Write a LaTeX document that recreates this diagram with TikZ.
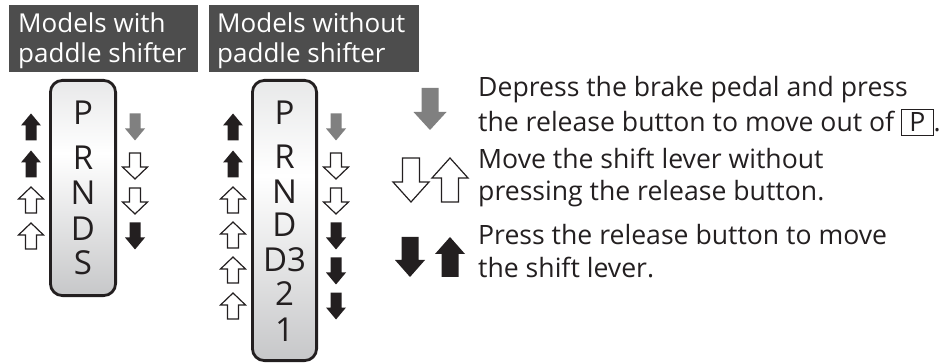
\documentclass[tikz,border=0pt]{standalone}
\usepackage{fontspec}
\setmainfont{Open Sans}
\definecolor{hdrgray}{HTML}{4D4D4D}
\definecolor{agray}{HTML}{808080}
\definecolor{ablack}{HTML}{231F20}
\definecolor{levtop}{HTML}{C6C7C9}
\definecolor{levbot}{HTML}{9C9DA0}
\pgfdeclareverticalshading{levershade}{100bp}{color(0bp)=(levbot); color(58bp)=(white); color(100bp)=(levtop)}
\newcommand{\varr}[8]{% #1 style, #2 cx, #3 cy, #4 dir (1 down, -1 up), #5 len, #6 head half w, #7 shaft half w, #8 head len
  \pgfmathsetmacro{\tipy}{#3+(#4)*(#5)/2}%
  \pgfmathsetmacro{\basey}{#3-(#4)*(#5)/2}%
  \pgfmathsetmacro{\hby}{\tipy-(#4)*(#8)}%
  \draw[#1] (#2,\tipy) -- ({#2+#6},\hby) -- ({#2+#7},\hby) -- ({#2+#7},\basey) -- ({#2-#7},\basey) -- ({#2-#7},\hby) -- ({#2-#6},\hby) -- cycle;}
\tikzset{
  fblack/.style={fill=ablack, draw=none},
  fgray/.style={fill=agray, draw=none},
  outl/.style={draw=ablack, fill=white, line width=1.2pt, line join=miter},
  hdrbox/.style={fill=hdrgray, draw=none},
  hdrtext/.style={anchor=base west, inner sep=0pt, text=white, font=\fontsize{26}{31}\selectfont},
  bodytext/.style={anchor=base west, inner sep=0pt, text=ablack, font=\fontsize{26.6}{31}\selectfont},
  letter/.style={anchor=center, inner sep=0pt, text=ablack, font=\fontsize{33}{36}\selectfont},
  leverframe/.style={draw=ablack, line width=2.8pt, rounded corners=12pt},
}
\setlength{\fboxsep}{3pt}
\setlength{\fboxrule}{0.8pt}
\begin{document}
\begin{tikzpicture}[x=1pt, y=-1pt]
\useasboundingbox (0,0) rectangle (950,363);
% headers
\fill[hdrbox] (9,5) rectangle (198,72);
\fill[hdrbox] (209,5) rectangle (419,72);
\node[hdrtext] (h1a) at (18,33) {Models with};
\node[hdrtext] (h1b) at (18,63) {paddle shifter};
\node[hdrtext] (h2a) at (217,33) {Models without};
\node[hdrtext] (h2b) at (217,63) {paddle shifter};
% lever 1
\shade[shading=levershade, rounded corners=12pt] (50.4,80.4) rectangle (115.6,295.6);
\draw[leverframe] (50.4,80.4) rectangle (115.6,295.6);
\node[letter] (l1p) at (83,113) {P};
\node[letter] (l1r) at (83,158) {R};
\node[letter] (l1n) at (83,193) {N};
\node[letter] (l1d) at (83,229) {D};
\node[letter] (l1s) at (83,263) {S};
% lever 2
\shade[shading=levershade, rounded corners=12pt] (252.4,80.4) rectangle (316.6,360.6);
\draw[leverframe] (252.4,80.4) rectangle (316.6,360.6);
\node[letter] (l2p) at (284.5,113) {P};
\node[letter] (l2r) at (284.5,157) {R};
\node[letter] (l2n) at (284.5,192) {N};
\node[letter] (l2d) at (284.5,225) {D};
\node[letter] (l2d3) at (284.5,260) {D3};
\node[letter] (l2two) at (284.5,294) {2};
\node[letter] (l2one) at (284.5,330) {1};
% lever 1 arrows left
\varr{fblack}{31}{127}{-1}{27}{10}{5.5}{12}
\varr{fblack}{31}{164}{-1}{27}{10}{5.5}{12}
\varr{outl}{31}{200}{-1}{26}{12.5}{5.5}{12}
\varr{outl}{31}{236}{-1}{26}{12.5}{5.5}{12}
% lever 1 arrows right
\varr{fgray}{135}{127}{1}{27}{10}{5.5}{12}
\varr{outl}{135}{166}{1}{26}{12.5}{5.5}{12}
\varr{outl}{135}{201}{1}{26}{12.5}{5.5}{12}
\varr{fblack}{135}{236}{1}{27}{10}{5.5}{12}
% lever 2 arrows left
\varr{fblack}{233}{127}{-1}{27}{10}{5.5}{12}
\varr{fblack}{233}{164}{-1}{27}{10}{5.5}{12}
\varr{outl}{233}{200}{-1}{26}{12.5}{5.5}{12}
\varr{outl}{233}{235}{-1}{26}{12.5}{5.5}{12}
\varr{outl}{233}{270}{-1}{26}{12.5}{5.5}{12}
\varr{outl}{233}{306}{-1}{26}{12.5}{5.5}{12}
% lever 2 arrows right
\varr{fgray}{336}{127}{1}{27}{10}{5.5}{12}
\varr{outl}{336}{166}{1}{26}{12.5}{5.5}{12}
\varr{outl}{336}{201}{1}{26}{12.5}{5.5}{12}
\varr{fblack}{336}{236}{1}{27}{10}{5.5}{12}
\varr{fblack}{336}{271}{1}{27}{10}{5.5}{12}
\varr{fblack}{336}{306}{1}{27}{10}{5.5}{12}
% legend arrows
\varr{fgray}{430}{109}{1}{42}{16.5}{8.5}{18}
\varr{outl}{411}{180}{1}{44}{18}{8.5}{20}
\varr{outl}{450}{180}{-1}{44}{18}{8.5}{20}
\varr{fblack}{410}{257}{1}{40}{15}{8.5}{17}
\varr{fblack}{450}{257}{-1}{40}{15}{8.5}{17}
% legend text
\node[bodytext] (t1) at (478,97) {Depress the brake pedal and press};
\node[bodytext] (t2) at (478,132) {the release button to move out of \fbox{\,P\,}.};
\node[bodytext] (t3) at (478,169) {Move the shift lever without};
\node[bodytext] (t4) at (478,201) {pressing the release button.};
\node[bodytext] (t5) at (478,245) {Press the release button to move};
\node[bodytext] (t6) at (478,277) {the shift lever.};
\end{tikzpicture}
\end{document}
